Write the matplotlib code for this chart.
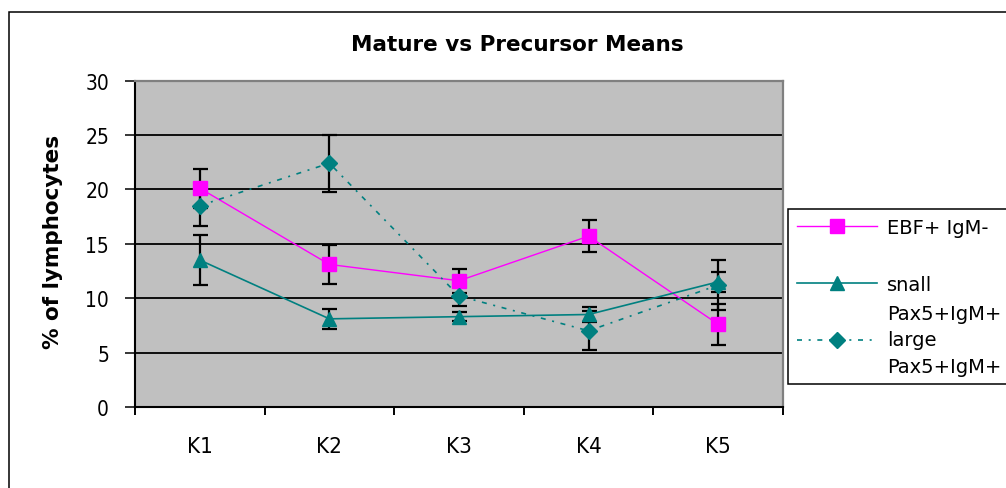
import numpy as np
import matplotlib
matplotlib.use('Agg')
import matplotlib.pyplot as plt
from matplotlib.lines import Line2D
from matplotlib.patches import Rectangle

# data
cats = ['K1', 'K2', 'K3', 'K4', 'K5']
ebf = [20.1, 13.1, 11.6, 15.7, 7.6]
ebf_err = [1.8, 1.8, 1.1, 1.5, 1.9]
small = [13.5, 8.1, 8.3, 8.5, 11.5]
small_err = [2.3, 0.9, 0.4, 0.7, 0.9]
large = [18.5, 22.4, 10.2, 7.0, 11.2]
large_err = [1.9, 2.6, 0.9, 1.8, 2.3]
labels = ['EBF+ IgM-', 'snall', 'Pax5+IgM+\nlarge\nPax5+IgM+']
yticks = [0, 5, 10, 15, 20, 25, 30]

W, H = 1006, 489
fig = plt.figure(figsize=(W / 100, H / 100), dpi=100)
fig.patch.set_facecolor('white')
# chart area border (runs off the right and bottom of the picture)
fig.add_artist(Rectangle((9 / W, -0.1), 1.2, 1 - 13 / H + 0.1, transform=fig.transFigure,
                         fill=False, edgecolor='black', lw=1.1))

ax = fig.add_axes([135 / W, 1 - 408 / H, 648 / W, 326.5 / H])
ax.set_facecolor('#C0C0C0')
x = np.arange(1, len(cats) + 1)

eb_kw = dict(ecolor='black', elinewidth=1.6, capsize=5.4, capthick=1.6)
l1 = ax.errorbar(x, ebf, yerr=ebf_err, color='#FF00FF', lw=1.0, marker='s', ms=9.5,
                 mfc='#FF00FF', mec='#FF00FF', **eb_kw)
l2 = ax.errorbar(x, small, yerr=small_err, color='#008080', lw=1.2, marker='^', ms=10,
                 mfc='#008080', mec='#008080', **eb_kw)
l3 = ax.errorbar(x, large, yerr=large_err, color='#008080', lw=1.2, ls=(0, (3, 4, 1.2, 4)),
                 marker='D', ms=8, mfc='#008080', mec='#008080', **eb_kw)

ax.set_xlim(0.5, len(cats) + 0.5)
ax.set_ylim(0, 30)
ax.set_yticks(yticks)
ax.yaxis.grid(True, color='black', lw=1.3)
ax.set_axisbelow(True)

tick_font = dict(family='DejaVu Sans', stretch='condensed')
ax.set_yticklabels([str(v) for v in yticks], fontsize=15, **tick_font)
ax.tick_params(axis='y', direction='out', length=7.2, width=1.1, pad=11.5, colors='black')

ax.set_xticks(np.arange(0.5, len(cats) + 1, 1))
ax.set_xticklabels([])
ax.tick_params(axis='x', which='major', direction='out', length=5.8, width=1.4)
ax.set_xticks(x, minor=True)
ax.set_xticklabels(cats, minor=True, fontsize=16, **tick_font)
ax.tick_params(axis='x', which='minor', length=0, pad=21)

for s in ['left', 'bottom']:
    ax.spines[s].set_color('black')
    ax.spines[s].set_linewidth(1.5)
for s in ['top', 'right']:
    ax.spines[s].set_color('#808080')
    ax.spines[s].set_linewidth(1.6)

ax.set_ylabel('% of lymphocytes', family='DejaVu Sans', fontweight='bold', fontsize=15.5)
ax.yaxis.set_label_coords(-0.111, 0.51)

fig.text(517.5 / W, 1 - 45 / H, 'Mature vs Precursor Means', ha='center', va='center',
         family='DejaVu Sans', fontweight='bold', fontsize=15.5)

# legend: blank spacer row between the first two entries, as in the original
spacer = Line2D([], [], color='none')
leg = fig.legend([l1.lines[0], spacer, l2.lines[0], l3.lines[0]],
                 [labels[0], ' ', labels[1], labels[2]],
                 loc='upper left', bbox_to_anchor=(788 / W, 1 - 210 / H),
                 bbox_transform=fig.transFigure, borderaxespad=0,
                 prop={'family': 'DejaVu Sans', 'size': 14},
                 handlelength=4.15, handletextpad=0.5, borderpad=0.45, labelspacing=0.5,
                 fancybox=False, framealpha=1, edgecolor='black')
leg.get_frame().set_linewidth(1.1)
for t in leg.get_texts():
    t.set_linespacing(1.49)

fig.savefig('out.png', dpi=100)
